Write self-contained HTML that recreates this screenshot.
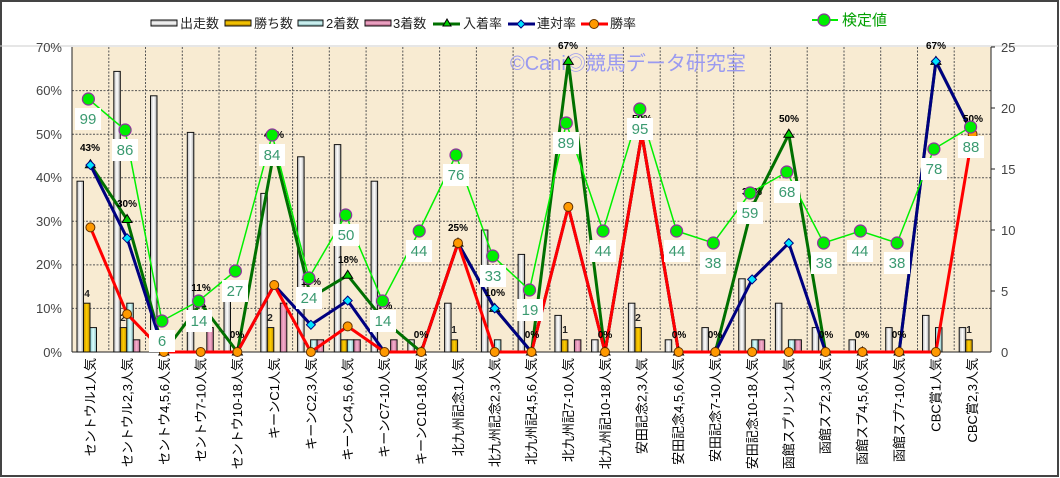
<!DOCTYPE html>
<html><head><meta charset="utf-8"><style>
html,body{margin:0;padding:0;background:#fff;}
svg{display:block;font-family:"Liberation Sans","Noto Sans CJK JP",sans-serif;}
</style></head><body>
<svg width="1060" height="478" viewBox="0 0 1060 478" xmlns="http://www.w3.org/2000/svg">
<defs>
<linearGradient id="gw" x1="0" y1="0" x2="1" y2="0"><stop offset="0" stop-color="#bbb"/><stop offset="0.5" stop-color="#fff"/><stop offset="1" stop-color="#aaa"/></linearGradient>
<linearGradient id="gy" x1="0" y1="0" x2="1" y2="0"><stop offset="0" stop-color="#c89000"/><stop offset="0.5" stop-color="#ffd000"/><stop offset="1" stop-color="#c08a00"/></linearGradient>
<linearGradient id="gc" x1="0" y1="0" x2="1" y2="0"><stop offset="0" stop-color="#8cc"/><stop offset="0.5" stop-color="#dff"/><stop offset="1" stop-color="#8bb"/></linearGradient>
<linearGradient id="gp" x1="0" y1="0" x2="1" y2="0"><stop offset="0" stop-color="#c07090"/><stop offset="0.5" stop-color="#f8b0d0"/><stop offset="1" stop-color="#c07090"/></linearGradient>
<linearGradient id="gwl" x1="0" y1="0" x2="0" y2="1"><stop offset="0" stop-color="#999"/><stop offset="0.5" stop-color="#fff"/><stop offset="1" stop-color="#999"/></linearGradient>
<linearGradient id="gyl" x1="0" y1="0" x2="0" y2="1"><stop offset="0" stop-color="#a07000"/><stop offset="0.5" stop-color="#ffd000"/><stop offset="1" stop-color="#a07000"/></linearGradient>
<linearGradient id="gcl" x1="0" y1="0" x2="0" y2="1"><stop offset="0" stop-color="#699"/><stop offset="0.5" stop-color="#dff"/><stop offset="1" stop-color="#699"/></linearGradient>
<linearGradient id="gpl" x1="0" y1="0" x2="0" y2="1"><stop offset="0" stop-color="#a05070"/><stop offset="0.5" stop-color="#f8b0d0"/><stop offset="1" stop-color="#a05070"/></linearGradient>
</defs>
<rect x="1" y="1" width="1057" height="475" fill="#fff" stroke="#444" stroke-width="2"/>

<!-- legend -->
<g font-size="13" fill="#222">
<rect x="151" y="20" width="26" height="6" fill="url(#gwl)" stroke="#111"/><text x="180" y="28">出走数</text>
<rect x="225" y="20" width="26" height="6" fill="url(#gyl)" stroke="#111"/><text x="254" y="28">勝ち数</text>
<rect x="298" y="20" width="25" height="6" fill="url(#gcl)" stroke="#111"/><text x="326" y="28">2着数</text>
<rect x="365" y="20" width="26" height="6" fill="url(#gpl)" stroke="#111"/><text x="393" y="28">3着数</text>
<line x1="433" y1="24" x2="460" y2="24" stroke="#007000" stroke-width="3"/><polygon points="447,19 451,26 443,26" fill="#00d000" stroke="#000"/><text x="463" y="28">入着率</text>
<line x1="508" y1="24" x2="535" y2="24" stroke="#000080" stroke-width="3"/><polygon points="521,20 525,24 521,28 517,24" fill="#00e5ff" stroke="#000080"/><text x="537" y="28">連対率</text>
<line x1="581" y1="24" x2="608" y2="24" stroke="#ff0000" stroke-width="3"/><circle cx="594" cy="24" r="4.5" fill="#ff9900" stroke="#603000"/><text x="610" y="28">勝率</text>
<line x1="812" y1="20" x2="838" y2="20" stroke="#00ee00" stroke-width="2"/><circle cx="824" cy="20" r="6" fill="#00ee00" stroke="#9030a0" stroke-width="1.2"/><text x="842" y="25" fill="#00a000" font-size="15">検定値</text>
</g>
<line x1="0" y1="46" x2="1058" y2="46" stroke="#ccc" stroke-width="1"/>

<!-- plot area -->
<rect x="72" y="47" width="919" height="305" fill="#f8ebd2"/>
<g stroke="#555" stroke-width="1" stroke-dasharray="2,1.5">
<line x1="72" y1="90.6" x2="991" y2="90.6"/><line x1="72" y1="134.2" x2="991" y2="134.2"/><line x1="72" y1="177.7" x2="991" y2="177.7"/><line x1="72" y1="221.3" x2="991" y2="221.3"/><line x1="72" y1="264.9" x2="991" y2="264.9"/><line x1="72" y1="308.4" x2="991" y2="308.4"/>
<line x1="108.8" y1="47" x2="108.8" y2="352"/><line x1="145.5" y1="47" x2="145.5" y2="352"/><line x1="182.3" y1="47" x2="182.3" y2="352"/><line x1="219" y1="47" x2="219" y2="352"/><line x1="255.8" y1="47" x2="255.8" y2="352"/><line x1="292.6" y1="47" x2="292.6" y2="352"/><line x1="329.3" y1="47" x2="329.3" y2="352"/><line x1="366.1" y1="47" x2="366.1" y2="352"/><line x1="402.8" y1="47" x2="402.8" y2="352"/><line x1="439.6" y1="47" x2="439.6" y2="352"/><line x1="476.4" y1="47" x2="476.4" y2="352"/><line x1="513.1" y1="47" x2="513.1" y2="352"/><line x1="549.9" y1="47" x2="549.9" y2="352"/><line x1="586.6" y1="47" x2="586.6" y2="352"/><line x1="623.4" y1="47" x2="623.4" y2="352"/><line x1="660.2" y1="47" x2="660.2" y2="352"/><line x1="696.9" y1="47" x2="696.9" y2="352"/><line x1="733.7" y1="47" x2="733.7" y2="352"/><line x1="770.4" y1="47" x2="770.4" y2="352"/><line x1="807.2" y1="47" x2="807.2" y2="352"/><line x1="844" y1="47" x2="844" y2="352"/><line x1="880.7" y1="47" x2="880.7" y2="352"/><line x1="917.5" y1="47" x2="917.5" y2="352"/><line x1="954.2" y1="47" x2="954.2" y2="352"/>
</g>
<line x1="72" y1="47" x2="72" y2="352" stroke="#222"/>
<line x1="991" y1="47" x2="991" y2="352" stroke="#222"/>
<line x1="72" y1="352" x2="991" y2="352" stroke="#222"/>

<!-- axis labels -->
<g font-size="13" fill="#444" text-anchor="end">
<text x="62" y="52">70%</text><text x="62" y="95">60%</text><text x="62" y="139">50%</text><text x="62" y="182">40%</text><text x="62" y="226">30%</text><text x="62" y="269">20%</text><text x="62" y="313">10%</text><text x="62" y="357">0%</text>
</g>
<g font-size="13" fill="#444">
<text x="1001" y="52">25</text><text x="1001" y="113">20</text><text x="1001" y="174">15</text><text x="1001" y="235">10</text><text x="1001" y="296">5</text><text x="1001" y="357">0</text>
</g>
<g stroke="#222"><line x1="991" y1="47" x2="995" y2="47"/><line x1="991" y1="108" x2="995" y2="108"/><line x1="991" y1="169" x2="995" y2="169"/><line x1="991" y1="230" x2="995" y2="230"/><line x1="991" y1="291" x2="995" y2="291"/></g>

<!-- watermark -->
<text x="510" y="70" font-size="20" fill="#9a9af0">©Cani◎競馬データ研究室</text>

<!-- white bars -->
<g fill="url(#gw)" stroke="#111" stroke-width="1">
<rect x="77" y="181.2" width="6.5" height="170.8"/>
<rect x="113.8" y="71.4" width="6.5" height="280.6"/>
<rect x="150.5" y="95.8" width="6.5" height="256.2"/>
<rect x="187.3" y="132.4" width="6.5" height="219.6"/>
<rect x="224" y="291" width="6.5" height="61"/>
<rect x="260.8" y="193.4" width="6.5" height="158.6"/>
<rect x="297.6" y="156.8" width="6.5" height="195.2"/>
<rect x="334.3" y="144.6" width="6.5" height="207.4"/>
<rect x="371.1" y="181.2" width="6.5" height="170.8"/>
<rect x="407.8" y="339.8" width="6.5" height="12.2"/>
<rect x="444.6" y="303.2" width="6.5" height="48.8"/>
<rect x="481.4" y="230" width="6.5" height="122"/>
<rect x="518.1" y="254.4" width="6.5" height="97.6"/>
<rect x="554.9" y="315.4" width="6.5" height="36.6"/>
<rect x="591.6" y="339.8" width="6.5" height="12.2"/>
<rect x="628.4" y="303.2" width="6.5" height="48.8"/>
<rect x="665.2" y="339.8" width="6.5" height="12.2"/>
<rect x="701.9" y="327.6" width="6.5" height="24.4"/>
<rect x="738.7" y="278.8" width="6.5" height="73.2"/>
<rect x="775.4" y="303.2" width="6.5" height="48.8"/>
<rect x="812.2" y="327.6" width="6.5" height="24.4"/>
<rect x="849" y="339.8" width="6.5" height="12.2"/>
<rect x="885.7" y="327.6" width="6.5" height="24.4"/>
<rect x="922.5" y="315.4" width="6.5" height="36.6"/>
<rect x="959.2" y="327.6" width="6.5" height="24.4"/>
</g>
<!-- yellow bars -->
<g fill="url(#gy)" stroke="#111">
<rect x="83.5" y="303.2" width="6.5" height="48.8"/>
<rect x="120.3" y="327.6" width="6.5" height="24.4"/>
<rect x="267.3" y="327.6" width="6.5" height="24.4"/>
<rect x="340.8" y="339.8" width="6.5" height="12.2"/>
<rect x="451.1" y="339.8" width="6.5" height="12.2"/>
<rect x="561.4" y="339.8" width="6.5" height="12.2"/>
<rect x="634.9" y="327.6" width="6.5" height="24.4"/>
<rect x="965.7" y="339.8" width="6.5" height="12.2"/>
</g>
<!-- cyan bars -->
<g fill="url(#gc)" stroke="#111">
<rect x="90" y="327.6" width="6.5" height="24.4"/>
<rect x="126.8" y="303.2" width="6.5" height="48.8"/>
<rect x="310.6" y="339.8" width="6.5" height="12.2"/>
<rect x="347.3" y="339.8" width="6.5" height="12.2"/>
<rect x="494.4" y="339.8" width="6.5" height="12.2"/>
<rect x="751.7" y="339.8" width="6.5" height="12.2"/>
<rect x="788.4" y="339.8" width="6.5" height="12.2"/>
<rect x="935.5" y="327.6" width="6.5" height="24.4"/>
</g>
<!-- pink bars -->
<g fill="url(#gp)" stroke="#111">
<rect x="133.3" y="339.8" width="6.5" height="12.2"/>
<rect x="206.8" y="327.6" width="6.5" height="24.4"/>
<rect x="280.3" y="303.2" width="6.5" height="48.8"/>
<rect x="317.1" y="339.8" width="6.5" height="12.2"/>
<rect x="353.8" y="339.8" width="6.5" height="12.2"/>
<rect x="390.6" y="339.8" width="6.5" height="12.2"/>
<rect x="574.4" y="339.8" width="6.5" height="12.2"/>
<rect x="758.2" y="339.8" width="6.5" height="12.2"/>
<rect x="794.9" y="339.8" width="6.5" height="12.2"/>
</g>
<!-- count labels -->
<g font-size="10" font-weight="bold" fill="#222" text-anchor="middle">
<text x="87" y="297">4</text><text x="123" y="321">2</text><text x="270" y="321">2</text><text x="454" y="333">1</text><text x="565" y="333">1</text><text x="638" y="321">2</text><text x="969" y="333">1</text>
</g>

<!-- 入着率 -->
<polyline fill="none" stroke="#007000" stroke-width="3" stroke-linejoin="round" points="90.4,164.7 127.1,219.5 163.9,352 200.7,303.6 237.4,352 274.2,150.7 310.9,297.5 347.7,275.3 384.5,321 421.2,352 458,243.1 494.7,308.4 531.5,352 568.3,61.4 605,352 641.8,134.2 678.6,352 715.3,352 752.1,206.9 788.8,134.2 825.6,352 862.4,352 899.1,352 935.9,61.4 972.6,134.2"/>
<!-- 連対率 -->
<polyline fill="none" stroke="#000080" stroke-width="3" stroke-linejoin="round" points="90.4,165.1 127.1,238.3 163.9,352 200.7,352 237.4,352 274.2,285 310.9,324.8 347.7,300.6 384.5,352 421.2,352 458,243.1 494.7,308.4 531.5,352 568.3,206.9 605,352 641.8,134.2 678.6,352 715.3,352 752.1,279.4 788.8,243.1 825.6,352 862.4,352 899.1,352 935.9,61.4 972.6,134.2"/>
<!-- 勝率 -->
<polyline fill="none" stroke="#ff0000" stroke-width="3" stroke-linejoin="round" points="90.4,227.4 127.1,314.1 163.9,352 200.7,352 237.4,352 274.2,285 310.9,352 347.7,326.4 384.5,352 421.2,352 458,243.1 494.7,352 531.5,352 568.3,206.9 605,352 641.8,134.2 678.6,352 715.3,352 752.1,352 788.8,352 825.6,352 862.4,352 899.1,352 935.9,352 972.6,134.2"/>

<!-- 検定値 line -->
<polyline fill="none" stroke="#00f000" stroke-width="1.5" points="88.4,99 125.1,130 161.9,321 198.7,301 235.4,271 272.2,135 308.9,278 345.7,215 382.5,301 419.2,231 456,155 492.7,256 529.5,290 566.3,123 603,231 639.8,109 676.6,231 713.3,243 750.1,193 786.8,172 823.6,243 860.4,231 897.1,243 933.9,149 970.6,127"/>

<!-- 入着 markers -->
<g fill="#00d000" stroke="#000" stroke-width="1">
<polygon points="90.4,159.7 95.4,167.7 85.4,167.7"/><polygon points="127.1,214.5 132.1,222.5 122.1,222.5"/><polygon points="163.9,347 168.9,355 158.9,355"/><polygon points="200.7,298.6 205.7,306.6 195.7,306.6"/><polygon points="237.4,347 242.4,355 232.4,355"/><polygon points="274.2,145.7 279.2,153.7 269.2,153.7"/><polygon points="310.9,292.5 315.9,300.5 305.9,300.5"/><polygon points="347.7,270.3 352.7,278.3 342.7,278.3"/><polygon points="384.5,316 389.5,324 379.5,324"/><polygon points="421.2,347 426.2,355 416.2,355"/><polygon points="458,238.1 463,246.1 453,246.1"/><polygon points="494.7,303.4 499.7,311.4 489.7,311.4"/><polygon points="531.5,347 536.5,355 526.5,355"/><polygon points="568.3,56.4 573.3,64.4 563.3,64.4"/><polygon points="605,347 610,355 600,355"/><polygon points="641.8,129.2 646.8,137.2 636.8,137.2"/><polygon points="678.6,347 683.6,355 673.6,355"/><polygon points="715.3,347 720.3,355 710.3,355"/><polygon points="752.1,201.9 757.1,209.9 747.1,209.9"/><polygon points="788.8,129.2 793.8,137.2 783.8,137.2"/><polygon points="825.6,347 830.6,355 820.6,355"/><polygon points="862.4,347 867.4,355 857.4,355"/><polygon points="899.1,347 904.1,355 894.1,355"/><polygon points="935.9,56.4 940.9,64.4 930.9,64.4"/><polygon points="972.6,129.2 977.6,137.2 967.6,137.2"/>
</g>
<!-- 連対 markers (nonzero) -->
<g fill="#00e5ff" stroke="#000080" stroke-width="1">
<polygon points="90.4,160.6 94.9,165.1 90.4,169.6 85.9,165.1"/><polygon points="127.1,233.8 131.6,238.3 127.1,242.8 122.6,238.3"/><polygon points="310.9,320.3 315.4,324.8 310.9,329.3 306.4,324.8"/><polygon points="347.7,296.1 352.2,300.6 347.7,305.1 343.2,300.6"/><polygon points="494.7,303.9 499.2,308.4 494.7,312.9 490.2,308.4"/><polygon points="752.1,274.9 756.6,279.4 752.1,283.9 747.6,279.4"/><polygon points="788.8,238.6 793.3,243.1 788.8,247.6 784.3,243.1"/><polygon points="935.9,56.9 940.4,61.4 935.9,65.9 931.4,61.4"/>
</g>
<!-- 勝率 markers -->
<g fill="#ff9900" stroke="#603000" stroke-width="1">
<circle cx="90.4" cy="227.4" r="4.5"/><circle cx="127.1" cy="314.1" r="4.5"/><circle cx="163.9" cy="352" r="4.5"/><circle cx="200.7" cy="352" r="4.5"/><circle cx="237.4" cy="352" r="4.5"/><circle cx="274.2" cy="285" r="4.5"/><circle cx="310.9" cy="352" r="4.5"/><circle cx="347.7" cy="326.4" r="4.5"/><circle cx="384.5" cy="352" r="4.5"/><circle cx="421.2" cy="352" r="4.5"/><circle cx="458" cy="243.1" r="4.5"/><circle cx="494.7" cy="352" r="4.5"/><circle cx="531.5" cy="352" r="4.5"/><circle cx="568.3" cy="206.9" r="4.5"/><circle cx="605" cy="352" r="4.5"/><circle cx="641.8" cy="134.2" r="4.5"/><circle cx="678.6" cy="352" r="4.5"/><circle cx="715.3" cy="352" r="4.5"/><circle cx="752.1" cy="352" r="4.5"/><circle cx="788.8" cy="352" r="4.5"/><circle cx="825.6" cy="352" r="4.5"/><circle cx="862.4" cy="352" r="4.5"/><circle cx="899.1" cy="352" r="4.5"/><circle cx="935.9" cy="352" r="4.5"/><circle cx="972.6" cy="134.2" r="4.5"/>
</g>

<!-- percent labels -->
<g font-size="10" font-weight="bold" fill="#000" text-anchor="middle">
<text x="90" y="151">43%</text><text x="127" y="207">30%</text><text x="201" y="291">11%</text><text x="237" y="338">0%</text><text x="274" y="138">46%</text><text x="311" y="285">13%</text><text x="348" y="263">18%</text><text x="385" y="309">7%</text><text x="421" y="338">0%</text><text x="458" y="231">25%</text><text x="495" y="296">10%</text><text x="532" y="338">0%</text><text x="568" y="49">67%</text><text x="605" y="338">0%</text><text x="642" y="122">50%</text><text x="679" y="338">0%</text><text x="715" y="338">0%</text><text x="752" y="195">33%</text><text x="789" y="122">50%</text><text x="826" y="338">0%</text><text x="862" y="338">0%</text><text x="899" y="338">0%</text><text x="936" y="49">67%</text><text x="973" y="122">50%</text>
</g>

<!-- 検定値 markers -->
<g fill="#00ee00" stroke="#9030a0" stroke-width="1.2">
<circle cx="88.4" cy="99" r="6"/><circle cx="125.1" cy="130" r="6"/><circle cx="161.9" cy="321" r="6"/><circle cx="198.7" cy="301" r="6"/><circle cx="235.4" cy="271" r="6"/><circle cx="272.2" cy="135" r="6"/><circle cx="308.9" cy="278" r="6"/><circle cx="345.7" cy="215" r="6"/><circle cx="382.5" cy="301" r="6"/><circle cx="419.2" cy="231" r="6"/><circle cx="456" cy="155" r="6"/><circle cx="492.7" cy="256" r="6"/><circle cx="529.5" cy="290" r="6"/><circle cx="566.3" cy="123" r="6"/><circle cx="603" cy="231" r="6"/><circle cx="639.8" cy="109" r="6"/><circle cx="676.6" cy="231" r="6"/><circle cx="713.3" cy="243" r="6"/><circle cx="750.1" cy="193" r="6"/><circle cx="786.8" cy="172" r="6"/><circle cx="823.6" cy="243" r="6"/><circle cx="860.4" cy="231" r="6"/><circle cx="897.1" cy="243" r="6"/><circle cx="933.9" cy="149" r="6"/><circle cx="970.6" cy="127" r="6"/>
</g>
<!-- 検定値 labels -->
<g fill="#fff">
<rect x="75" y="108" width="26" height="22"/><rect x="112" y="139" width="26" height="22"/><rect x="149" y="330" width="26" height="22"/><rect x="186" y="310" width="26" height="22"/><rect x="222" y="280" width="26" height="22"/><rect x="259" y="144" width="26" height="22"/><rect x="296" y="287" width="26" height="22"/><rect x="333" y="224" width="26" height="22"/><rect x="370" y="310" width="26" height="22"/><rect x="406" y="240" width="26" height="22"/><rect x="443" y="164" width="26" height="22"/><rect x="480" y="265" width="26" height="22"/><rect x="517" y="299" width="26" height="22"/><rect x="553" y="132" width="26" height="22"/><rect x="590" y="240" width="26" height="22"/><rect x="627" y="118" width="26" height="22"/><rect x="664" y="240" width="26" height="22"/><rect x="700" y="252" width="26" height="22"/><rect x="737" y="202" width="26" height="22"/><rect x="774" y="181" width="26" height="22"/><rect x="811" y="252" width="26" height="22"/><rect x="847" y="240" width="26" height="22"/><rect x="884" y="252" width="26" height="22"/><rect x="921" y="158" width="26" height="22"/><rect x="958" y="136" width="26" height="22"/>
</g>
<g font-size="15" fill="#3a9a70" text-anchor="middle">
<text x="88" y="124">99</text><text x="125" y="155">86</text><text x="162" y="346">6</text><text x="199" y="326">14</text><text x="235" y="296">27</text><text x="272" y="160">84</text><text x="309" y="303">24</text><text x="346" y="240">50</text><text x="383" y="326">14</text><text x="419" y="256">44</text><text x="456" y="180">76</text><text x="493" y="281">33</text><text x="530" y="315">19</text><text x="566" y="148">89</text><text x="603" y="256">44</text><text x="640" y="134">95</text><text x="677" y="256">44</text><text x="713" y="268">38</text><text x="750" y="218">59</text><text x="787" y="197">68</text><text x="824" y="268">38</text><text x="860" y="256">44</text><text x="897" y="268">38</text><text x="934" y="174">78</text><text x="971" y="152">88</text>
</g>

<!-- x labels -->
<g font-size="13" fill="#000" text-anchor="end">
<text transform="translate(95,358) rotate(-90)">セントウル1人気</text>
<text transform="translate(132,358) rotate(-90)">セントウル2,3人気</text>
<text transform="translate(169,358) rotate(-90)">セントウ4,5,6人気</text>
<text transform="translate(205.5,358) rotate(-90)">セントウ7-10人気</text>
<text transform="translate(242,358) rotate(-90)">セントウ10-18人気</text>
<text transform="translate(279,358) rotate(-90)">キーンC1人気</text>
<text transform="translate(316,358) rotate(-90)">キーンC2,3人気</text>
<text transform="translate(352.5,358) rotate(-90)">キーンC4,5,6人気</text>
<text transform="translate(389,358) rotate(-90)">キーンC7-10人気</text>
<text transform="translate(426,358) rotate(-90)">キーンC10-18人気</text>
<text transform="translate(463,358) rotate(-90)">北九州記念1人気</text>
<text transform="translate(499.5,358) rotate(-90)">北九州記念2,3人気</text>
<text transform="translate(536,358) rotate(-90)">北九州記4,5,6人気</text>
<text transform="translate(573,358) rotate(-90)">北九州記7-10人気</text>
<text transform="translate(610,358) rotate(-90)">北九州記10-18人気</text>
<text transform="translate(646.5,358) rotate(-90)">安田記念2,3人気</text>
<text transform="translate(683,358) rotate(-90)">安田記念4,5,6人気</text>
<text transform="translate(720,358) rotate(-90)">安田記念7-10人気</text>
<text transform="translate(757,358) rotate(-90)">安田記念10-18人気</text>
<text transform="translate(793.5,358) rotate(-90)">函館スプリン1人気</text>
<text transform="translate(830,358) rotate(-90)">函館スプ2,3人気</text>
<text transform="translate(867,358) rotate(-90)">函館スプ4,5,6人気</text>
<text transform="translate(904,358) rotate(-90)">函館スプ7-10人気</text>
<text transform="translate(940.5,358) rotate(-90)">CBC賞1人気</text>
<text transform="translate(977,358) rotate(-90)">CBC賞2,3人気</text>
</g>
</svg>
</body></html>
